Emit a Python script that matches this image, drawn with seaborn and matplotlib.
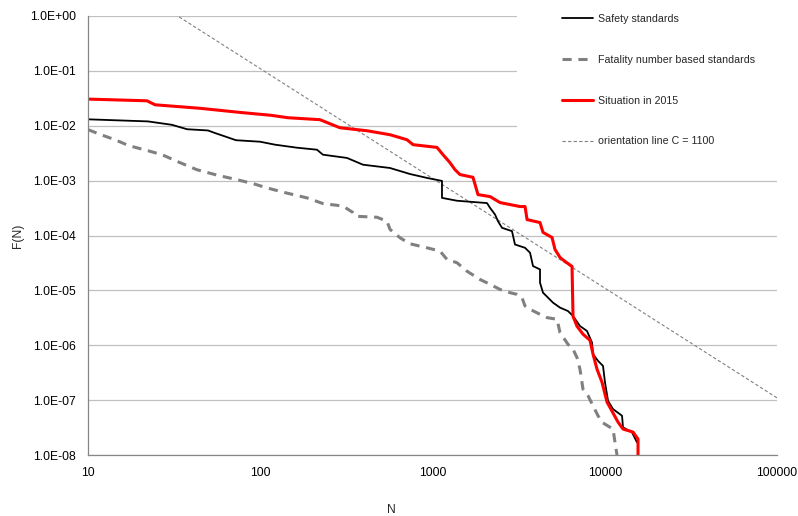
import seaborn as sns
import matplotlib.pyplot as plt
from matplotlib.patches import Rectangle

# FN-curves, values
safety_n = [10, 22.3, 30.7, 37.6, 49.7, 54.6, 62.4, 72.3, 99.7, 121.8, 163.4, 213.5, 231,
            319, 395, 566, 740, 929, 1135, 1135, 1387, 2072, 2158, 2307, 2400, 2533,
            2894, 3012, 3444, 3683, 3833, 4209, 4209, 4381, 4683, 5007, 5500, 6118,
            6543, 7180, 7887, 8433, 8551, 9140, 9770, 10035, 10450, 11170, 12600,
            12760, 14390, 15390]
safety_f = [1.31e-2, 1.20e-2, 1.04e-2, 8.64e-3, 8.21e-3, 7.37e-3, 6.39e-3, 5.45e-3,
            5.12e-3, 4.52e-3, 3.98e-3, 3.66e-3, 2.97e-3, 2.59e-3, 1.95e-3, 1.70e-3,
            1.32e-3, 1.12e-3, 9.88e-4, 4.85e-4, 4.30e-4, 3.90e-4, 3.19e-4, 2.41e-4,
            1.82e-4, 1.38e-4, 1.20e-4, 6.86e-5, 5.97e-5, 4.85e-5, 2.77e-5, 2.41e-5,
            1.38e-5, 9.08e-6, 7.37e-6, 5.97e-6, 4.85e-6, 4.20e-6, 3.41e-6, 2.24e-6,
            1.82e-6, 1.12e-6, 6.86e-7, 5.19e-7, 4.20e-7, 2.10e-7, 9.70e-8, 6.86e-8,
            5.19e-8, 3.19e-8, 2.59e-8, 1.70e-8]

fatality_n = [10, 11.9, 14.35, 17.3, 21.7, 26.9, 32.9, 42.9, 56.1, 73.3, 90.8, 109.5,
              139, 186.6, 231, 302, 345.5, 359.5, 476, 544, 567, 648, 740, 929, 1106,
              1214, 1387, 1585, 1887, 2158, 2466, 2818, 3094, 3308, 3444, 3683, 4209,
              4620, 5283, 5500, 6118, 6543, 6901, 7180, 7477, 7998, 8551, 9140, 9640,
              11170, 11470, 11780]
fatality_f = [8.5e-3, 6.86e-3, 5.56e-3, 4.33e-3, 3.59e-3, 2.97e-3, 2.24e-3, 1.58e-3,
              1.26e-3, 1.04e-3, 8.82e-4, 7.37e-4, 6.05e-4, 4.85e-4, 3.82e-4, 3.44e-4,
              2.62e-4, 2.24e-4, 2.15e-4, 1.82e-4, 1.29e-4, 9.08e-5, 7.06e-5, 5.97e-5,
              5.19e-5, 3.66e-5, 3.19e-5, 2.24e-5, 1.58e-5, 1.29e-5, 1.04e-5, 9.08e-6,
              8.46e-6, 7.37e-6, 5.19e-6, 4.52e-6, 3.66e-6, 3.19e-6, 2.97e-6, 1.70e-6,
              1.04e-6, 8.46e-7, 5.97e-7, 3.66e-7, 1.58e-7, 1.20e-7, 7.87e-8, 5.19e-8,
              3.94e-8, 2.97e-8, 1.70e-8, 1.0e-8]

situation_n = [10, 22.0, 24.5, 44.7, 76.3, 115.5, 145, 222, 290, 417, 567, 711, 771,
               1062, 1151, 1264, 1351, 1444, 1718, 1837, 2158, 2466, 3222, 3446, 3540,
               4209, 4381, 4943, 5144, 5500, 5879, 6457, 6543, 6901, 7477, 8210, 8551,
               9018, 9640, 10310, 11020, 11940, 12760, 14590, 15600, 15600]
situation_f = [3.06e-2, 2.85e-2, 2.41e-2, 2.08e-2, 1.75e-2, 1.55e-2, 1.40e-2, 1.29e-2,
               9.2e-3, 8.1e-3, 6.86e-3, 5.56e-3, 4.52e-3, 4.03e-3, 2.97e-3, 2.12e-3,
               1.58e-3, 1.29e-3, 1.15e-3, 5.56e-4, 5.12e-4, 3.98e-4, 3.37e-4, 3.37e-4,
               1.95e-4, 1.72e-4, 1.14e-4, 9.2e-5, 5.56e-5, 3.98e-5, 3.37e-5, 2.73e-5,
               3.37e-6, 2.22e-6, 1.59e-6, 1.23e-6, 6.86e-7, 3.66e-7, 2.12e-7, 9.2e-8,
               6.3e-8, 3.98e-8, 2.97e-8, 2.62e-8, 1.95e-8, 1.0e-8]

orientation_n = [10, 100000]
orientation_f = [11.0, 1.1e-7]

x_ticks = [10, 100, 1000, 10000, 100000]
x_tick_labels = ['10', '100', '1000', '10000', '100000']
y_ticks = [1e-8, 1e-7, 1e-6, 1e-5, 1e-4, 1e-3, 1e-2, 1e-1, 1e0]
y_tick_labels = ['1.0E-08', '1.0E-07', '1.0E-06', '1.0E-05', '1.0E-04',
                 '1.0E-03', '1.0E-02', '1.0E-01', '1.0E+00']

sns.set_style('white')
plt.rcParams['font.family'] = ['Liberation Sans', 'DejaVu Sans']

fig = plt.figure(figsize=(7.98, 5.16), dpi=100)
ax = fig.add_axes([88 / 798, 1 - 455 / 516, 689 / 798, 439 / 516])
ax.set_xscale('log')
ax.set_yscale('log')
ax.set_xlim(10, 100000)
ax.set_ylim(1e-8, 1)

ax.set_axisbelow(True)
ax.yaxis.grid(True, which='major', color='#c0c0c0', lw=0.9)
ax.xaxis.grid(False)

# white legend area hides the gridlines behind it
ax.add_patch(Rectangle((0.6226, 0.684), 0.3774, 0.316, transform=ax.transAxes,
                       facecolor='white', edgecolor='none', zorder=0.8))

sns.lineplot(x=orientation_n, y=orientation_f, ax=ax, sort=False, estimator=None,
             color='#808080', lw=0.8, linestyle=(0, (3, 2)), label='orientation line C = 1100')
sns.lineplot(x=fatality_n, y=fatality_f, ax=ax, sort=False, estimator=None,
             color='#808080', lw=2.2, linestyle=(0, (3, 2.2)), label='Fatality number based standards')
sns.lineplot(x=safety_n, y=safety_f, ax=ax, sort=False, estimator=None,
             color='black', lw=1.3, label='Safety standards')
sns.lineplot(x=situation_n, y=situation_f, ax=ax, sort=False, estimator=None,
             color='#ff0000', lw=2.2, label='Situation in 2015')

ax.set_xticks(x_ticks)
ax.set_xticklabels(x_tick_labels)
ax.set_yticks(y_ticks)
ax.set_yticklabels(y_tick_labels)
ax.minorticks_off()
ax.tick_params(axis='both', length=0, labelsize=8.7, colors='black')
ax.tick_params(axis='y', pad=8.5)
ax.tick_params(axis='x', pad=8.5)

for side in ['top', 'right']:
    ax.spines[side].set_visible(False)
for side in ['left', 'bottom']:
    ax.spines[side].set_color('#868686')
    ax.spines[side].set_linewidth(0.9)

ax.set_xlabel('')
ax.set_ylabel('')
fig.text(391 / 798, 1 - 510 / 516, 'N', ha='center', va='center', fontsize=8.7)
fig.text(18 / 798, 1 - 236 / 516, 'F(N)', ha='center', va='center', rotation=90, fontsize=8.7)

handles, labels = ax.get_legend_handles_labels()
order = [2, 1, 3, 0]
ax.legend([handles[i] for i in order], [labels[i] for i in order],
          loc='upper left', bbox_to_anchor=(0.6744, 1.026), frameon=False,
          fontsize=7.7, handlelength=2.9, handletextpad=0.4, labelspacing=2.87,
          borderpad=0.4)

fig.savefig('out.png', dpi=100)
